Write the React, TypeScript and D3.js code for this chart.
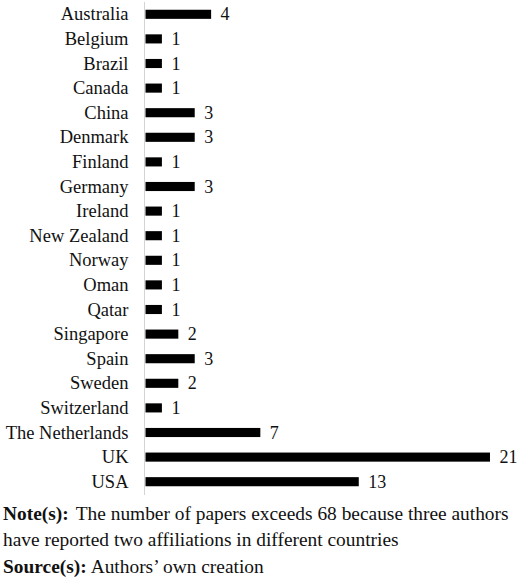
import React from "react";
import * as d3 from "d3";

const countries = [
  "Australia", "Belgium", "Brazil", "Canada", "China", "Denmark", "Finland",
  "Germany", "Ireland", "New Zealand", "Norway", "Oman", "Qatar", "Singapore",
  "Spain", "Sweden", "Switzerland", "The Netherlands", "UK", "USA",
];
const papers = [4, 1, 1, 1, 3, 3, 1, 3, 1, 1, 1, 1, 1, 2, 3, 2, 1, 7, 21, 13];

const W = 520;
const H = 579;
const FONT = "'Liberation Serif', 'Times New Roman', serif";

export default function App() {
  const x = d3.scaleLinear().domain([0, 21]).range([145.5, 490]);
  const y = d3
    .scaleBand<string>()
    .domain(countries)
    .range([2, 494])
    .paddingInner(0.63)
    .paddingOuter(0.315);
  const bw = y.bandwidth();

  return (
    <svg
      width={W}
      height={H}
      style={{ position: "absolute", left: 0, top: 0, background: "#fff" }}
      fontFamily={FONT}
    >
      <rect width={W} height={H} fill="#fff" />
      <line x1={144.5} x2={144.5} y1={2} y2={495} stroke="#d4d4d4" strokeWidth={1} />
      {countries.map((c, i) => {
        const yc = (y(c) as number) + bw / 2;
        return (
          <g key={c}>
            <text x={128.5} y={yc + 6} textAnchor="end" fontSize={18.5} fill="#111">
              {c}
            </text>
            <rect x={x(0)} y={y(c)} width={x(papers[i]) - x(0)} height={bw} fill="#000" />
            <text x={x(papers[i]) + 9.5} y={yc + 6} fontSize={18} fill="#111">
              {papers[i]}
            </text>
          </g>
        );
      })}
      <text x={3} y={520} fontSize={19.4} fill="#111">
        <tspan fontWeight="bold">Note(s):</tspan>
        <tspan dx={7}>The number of papers exceeds 68 because three authors</tspan>
      </text>
      <text x={3} y={546} fontSize={19.4} fill="#111">
        have reported two affiliations in different countries
      </text>
      <text x={3} y={573} fontSize={19.4} fill="#111">
        <tspan fontWeight="bold">Source(s):</tspan>
        <tspan dx={4}>Authors’ own creation</tspan>
      </text>
    </svg>
  );
}
